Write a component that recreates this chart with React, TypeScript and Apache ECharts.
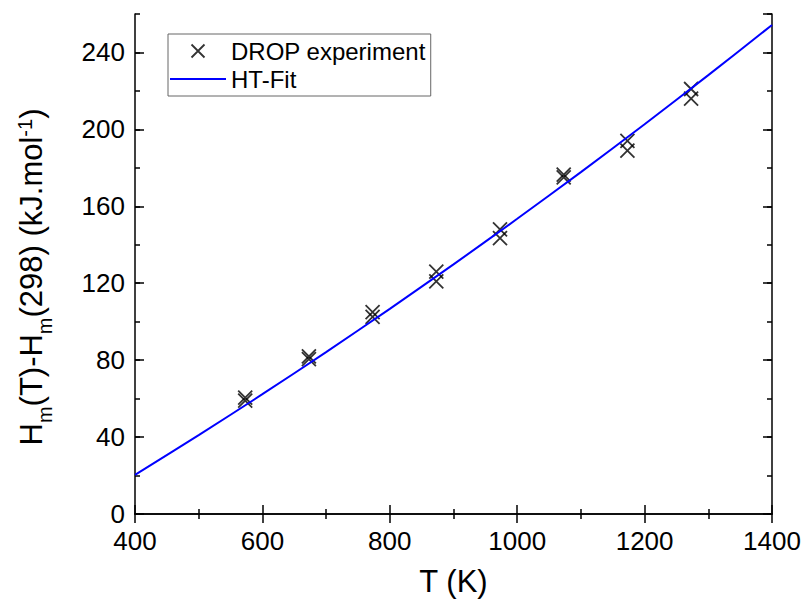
import React, { useEffect, useRef } from "react";
import * as echarts from "echarts";

// Experimental (DROP) points: temperature (K) and enthalpy increment (kJ/mol)
const expT = [573, 573, 673, 673, 773, 773, 873, 873, 973, 973, 1073, 1073, 1173, 1173, 1273, 1273];
const expH = [60.5, 59, 82, 80.5, 105, 102.5, 126, 121, 148, 143.5, 176.5, 175, 194, 189, 221, 216];

// HT-Fit curve
const fitT = [400, 500, 600, 700, 800, 900, 1000, 1100, 1200, 1300, 1400];
const fitH = [20.3, 41, 62.3, 84.2, 106.7, 129.8, 153.5, 177.8, 202.7, 228.2, 254.3];

const xTicks = { min: 400, max: 1400, interval: 200 };
const yTicks = { min: 0, max: 260, interval: 40 };

const FONT = 'Arial, "Liberation Sans", sans-serif';
const CROSS = "path://M0,0L10,10M10,0L0,10";
const LINE_ICON = "path://M0,0L56,0L56,2L0,2Z";

export default function App() {
  const ref = useRef<HTMLDivElement>(null);
  useEffect(() => {
    if (!ref.current) return;
    const chart = echarts.init(ref.current, undefined, { renderer: "svg" });
    const axisLine = { show: true, lineStyle: { color: "#000", width: 1.5 } };
    const majorTick = { show: true, inside: true, length: 9, lineStyle: { color: "#000", width: 1.5 } };
    const minorTickY = { show: true, inside: true, length: 5, lineStyle: { color: "#000", width: 1.5 } };
    const label = {
      fontSize: 26,
      color: "#000",
      fontFamily: FONT,
      margin: 10,
      formatter: (v: number) => String(v),
    };
    chart.setOption({
      animation: false,
      backgroundColor: "#fff",
      grid: { left: 135, right: 33, top: 14, bottom: 88, containLabel: false },
      legend: {
        orient: "vertical",
        left: 168,
        top: 34,
        padding: [5, 5, 5, 2],
        itemGap: 4,
        itemWidth: 56,
        itemHeight: 13,
        borderColor: "#666",
        borderWidth: 1,
        textStyle: { fontSize: 24, color: "#000", fontFamily: FONT },
        data: [
          {
            name: "DROP experiment",
            icon: CROSS,
            itemStyle: { color: "transparent", borderColor: "#000", borderWidth: 1.8 },
          },
          {
            name: "HT-Fit",
            icon: LINE_ICON,
            itemStyle: { color: "#0000ff", borderWidth: 0 },
          },
        ],
      },
      xAxis: [
        {
          type: "value",
          position: "bottom",
          ...xTicks,
          axisLine,
          axisTick: majorTick,
          minorTick: { show: true, splitNumber: 2, length: 5, lineStyle: { color: "#000", width: 1.5 } },
          splitLine: { show: false },
          minorSplitLine: { show: false },
          axisLabel: { ...label, margin: 14 },
          name: "T (K)",
          nameLocation: "middle",
          nameGap: 52,
          nameTextStyle: { fontSize: 31, color: "#000", fontFamily: FONT },
        },
        {
          type: "value",
          position: "top",
          ...xTicks,
          axisLine,
          axisTick: majorTick,
          minorTick: { show: true, splitNumber: 2, length: 5, lineStyle: { color: "#000", width: 1.5 } },
          splitLine: { show: false },
          axisLabel: { show: false },
        },
      ],
      yAxis: [
        {
          type: "value",
          position: "left",
          ...yTicks,
          axisLine,
          axisTick: majorTick,
          splitLine: { show: false },
          axisLabel: { ...label, showMaxLabel: false },
          name: "{t|H}{s|m}{t|(T)-H}{s|m}{t|(298) (kJ.mol}{p|-1}{t|)}",
          nameLocation: "middle",
          nameGap: 80,
          nameTextStyle: {
            color: "#000",
            fontFamily: FONT,
            padding: [0, 26, 0, 0],
            rich: {
              t: { fontSize: 31, color: "#000", fontFamily: FONT },
              s: { fontSize: 20, color: "#000", fontFamily: FONT, verticalAlign: "top", padding: [28, 0, 0, 0] },
              p: { fontSize: 20, color: "#000", fontFamily: FONT, verticalAlign: "top", padding: [8, 0, 0, 0] },
            },
          },
        },
        {
          type: "value",
          position: "left",
          min: 0,
          max: 260,
          interval: 20,
          axisLine: { show: false },
          axisTick: minorTickY,
          splitLine: { show: false },
          axisLabel: { show: false },
        },
        {
          type: "value",
          position: "right",
          ...yTicks,
          axisLine,
          axisTick: majorTick,
          splitLine: { show: false },
          axisLabel: { show: false },
        },
        {
          type: "value",
          position: "right",
          min: 0,
          max: 260,
          interval: 20,
          axisLine: { show: false },
          axisTick: minorTickY,
          splitLine: { show: false },
          axisLabel: { show: false },
        },
      ],
      series: [
        {
          name: "HT-Fit",
          type: "line",
          xAxisIndex: 0,
          yAxisIndex: 0,
          data: fitT.map((t, i) => [t, fitH[i]]),
          showSymbol: false,
          symbol: "none",
          smooth: 0.3,
          lineStyle: { color: "#0000ff", width: 2 },
          itemStyle: { color: "#0000ff" },
        },
        {
          name: "DROP experiment",
          type: "scatter",
          xAxisIndex: 0,
          yAxisIndex: 0,
          data: expT.map((t, i) => [t, expH[i]]),
          symbol: CROSS,
          symbolSize: 14,
          itemStyle: { color: "transparent", borderColor: "#000", borderWidth: 1.8 },
        },
      ],
    });
    return () => chart.dispose();
  }, []);
  return (
    <div
      ref={ref}
      style={{ position: "fixed", left: 0, top: 0, width: 805, height: 602, background: "#fff" }}
    />
  );
}
